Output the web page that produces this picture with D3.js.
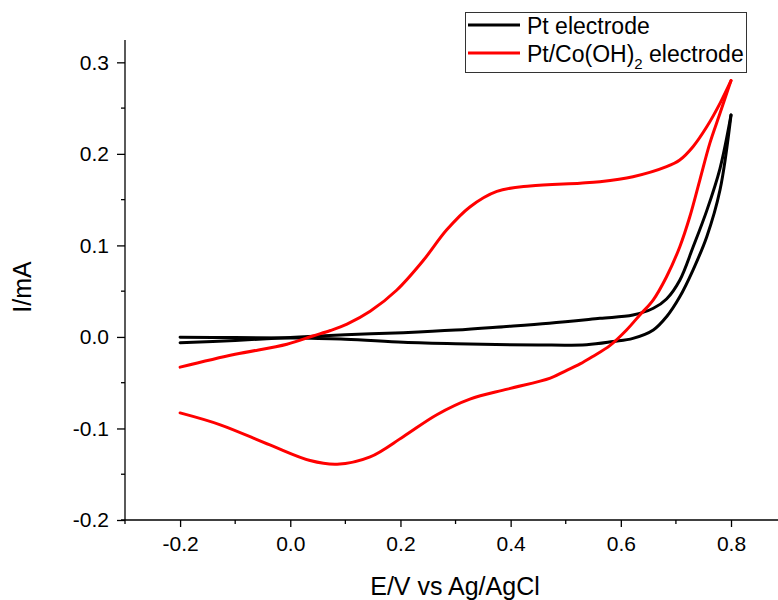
<!DOCTYPE html>
<html>
<head>
<meta charset="utf-8">
<script src="https://cdn.jsdelivr.net/npm/d3@7"></script>
<style>
  html, body { margin: 0; padding: 0; background: #fff; }
  svg { display: block; font-family: Arial, "Liberation Sans", sans-serif; }
</style>
</head>
<body>
<svg id="chart" width="778" height="600"></svg>
<script>
// ---- Data ----
const seriesNames = ["Pt electrode", "Pt/Co(OH)2 electrode"];
const seriesColors = ["#000000", "#ff0000"];

// Pt electrode: forward (anodic) and reverse scans
const ptForwardE = [-0.2, -0.1, 0.0, 0.1, 0.205, 0.3, 0.387, 0.47, 0.562, 0.622, 0.659, 0.683, 0.707, 0.731, 0.756, 0.78, 0.8];
const ptForwardI = [-0.0063, -0.0038, -0.0005, 0.0025, 0.0047, 0.0075, 0.0112, 0.015, 0.0203, 0.0239, 0.0313, 0.0415, 0.062, 0.098, 0.138, 0.184, 0.2424];
const ptReverseE = [0.8, 0.78, 0.756, 0.731, 0.707, 0.683, 0.659, 0.622, 0.586, 0.538, 0.45, 0.3, 0.205, 0.1, 0.0, -0.1, -0.2];
const ptReverseI = [0.2424, 0.1605, 0.1095, 0.0731, 0.0439, 0.0221, 0.0076, -0.0016, -0.005, -0.0085, -0.0088, -0.0075, -0.0059, -0.0025, -0.0012, -0.0007, -0.0004];

// Pt/Co(OH)2 electrode: forward and reverse scans
const coForwardE = [-0.2, -0.1, -0.006, 0.041, 0.073, 0.103, 0.145, 0.193, 0.242, 0.284, 0.326, 0.375, 0.435, 0.526, 0.562, 0.622, 0.683, 0.707, 0.731, 0.756, 0.78, 0.8];
const coForwardI = [-0.033, -0.019, -0.008, 0.001, 0.007, 0.014, 0.028, 0.051, 0.084, 0.117, 0.142, 0.159, 0.165, 0.168, 0.1696, 0.175, 0.186, 0.1933, 0.2078, 0.2296, 0.2552, 0.28];
const coReverseE = [0.8, 0.78, 0.7615, 0.7434, 0.7252, 0.7071, 0.683, 0.6586, 0.6345, 0.6104, 0.58, 0.55, 0.526, 0.5, 0.472, 0.394, 0.326, 0.266, 0.205, 0.145, 0.085, 0.036, -0.037, -0.127, -0.2];
const coReverseI = [0.28, 0.2443, 0.2115, 0.1714, 0.1313, 0.0986, 0.0658, 0.0403, 0.024, 0.0076, -0.0095, -0.021, -0.0295, -0.037, -0.045, -0.057, -0.068, -0.085, -0.109, -0.131, -0.139, -0.135, -0.118, -0.096, -0.083];

const xTickValues = [-0.2, 0.0, 0.2, 0.4, 0.6, 0.8];
const xMinorTicks = [-0.3, -0.1, 0.1, 0.3, 0.5, 0.7];
const yTickValues = [-0.2, -0.1, 0.0, 0.1, 0.2, 0.3];
const yMinorTicks = [-0.15, -0.05, 0.05, 0.15, 0.25];

const xTitle = "E/V vs Ag/AgCl";
const yTitle = "I/mA";

// ---- Layout ----
const svg = d3.select("#chart");
const x = d3.scaleLinear().domain([-0.3, 0.9]).range([125, 786.1]);
const y = d3.scaleLinear().domain([-0.2, 0.3244]).range([520, 40]);

const fmt = d => d3.format(".1f")(d).replace("\u2212", "-");

// X axis
const gx = svg.append("g").attr("transform", "translate(0,520)");
gx.selectAll("line.minor").data(xMinorTicks).join("line")
  .attr("class", "minor")
  .attr("x1", d => x(d)).attr("x2", d => x(d))
  .attr("y1", 0).attr("y2", 4)
  .attr("stroke", "#000").attr("stroke-width", 1.3);
gx.call(d3.axisBottom(x).tickValues(xTickValues).tickFormat(fmt).tickSizeInner(7).tickSizeOuter(0).tickPadding(9));
gx.select(".domain").remove();
gx.append("line").attr("x1", 121).attr("x2", 778).attr("y1", 0).attr("y2", 0)
  .attr("stroke", "#000").attr("stroke-width", 1.3);
gx.selectAll(".tick line").attr("stroke-width", 1.3);
gx.selectAll(".tick text").attr("font-size", 21).attr("font-family", "Arial, 'Liberation Sans', sans-serif").attr("fill", "#000");

// Y axis
const gy = svg.append("g").attr("transform", "translate(125,0)");
gy.selectAll("line.minor").data(yMinorTicks).join("line")
  .attr("class", "minor")
  .attr("y1", d => y(d)).attr("y2", d => y(d))
  .attr("x1", 0).attr("x2", -4)
  .attr("stroke", "#000").attr("stroke-width", 1.3);
gy.call(d3.axisLeft(y).tickValues(yTickValues).tickFormat(fmt).tickSizeInner(8).tickSizeOuter(0).tickPadding(8));
gy.select(".domain").remove();
gy.append("line").attr("x1", 0).attr("x2", 0).attr("y1", 40).attr("y2", 520)
  .attr("stroke", "#000").attr("stroke-width", 1.3);
gy.selectAll(".tick line").attr("stroke-width", 1.3);
gy.selectAll(".tick text").attr("font-size", 21).attr("font-family", "Arial, 'Liberation Sans', sans-serif").attr("fill", "#000");

// Axis titles
svg.append("text").attr("x", 455).attr("y", 595).attr("text-anchor", "middle")
  .attr("font-size", 25).attr("fill", "#000").text(xTitle);
svg.append("text").attr("transform", "translate(31,287) rotate(-90)").attr("text-anchor", "middle")
  .attr("font-size", 25).attr("fill", "#000").text(yTitle);

// Curves (each scan drawn as a smooth path through the read points)
const line = d3.line().x(d => x(d[0])).y(d => y(d[1])).curve(d3.curveCatmullRom.alpha(0.5));
const zip = (a, b) => a.map((v, i) => [v, b[i]]);
const curves = [
  { color: seriesColors[0], parts: [zip(ptForwardE, ptForwardI), zip(ptReverseE, ptReverseI)] },
  { color: seriesColors[1], parts: [zip(coForwardE, coForwardI), zip(coReverseE, coReverseI)] }
];
curves.forEach(c => {
  c.parts.forEach(p => {
    svg.append("path").datum(p).attr("d", line)
      .attr("fill", "none").attr("stroke", c.color).attr("stroke-width", 3)
      .attr("stroke-linejoin", "round").attr("stroke-linecap", "round");
  });
});

// Legend
const lg = svg.append("g");
lg.append("rect").attr("x", 465.5).attr("y", 12.5).attr("width", 281).attr("height", 60)
  .attr("fill", "#fff").attr("stroke", "#333").attr("stroke-width", 1);
seriesNames.forEach((name, i) => {
  const ly = 25 + i * 28;
  lg.append("line").attr("x1", 468).attr("x2", 520).attr("y1", ly).attr("y2", ly)
    .attr("stroke", seriesColors[i]).attr("stroke-width", 3);
  const t = lg.append("text").attr("x", 527).attr("y", ly + 8.5).attr("font-size", 23).attr("fill", "#000");
  const m = name.match(/^(.*\))2( .*)$/);
  if (m) {
    t.append("tspan").text(m[1]);
    t.append("tspan").attr("font-size", 15).attr("dy", 7).text("2");
    t.append("tspan").attr("dy", -7).text(m[2]);
  } else {
    t.text(name);
  }
});
</script>
</body>
</html>
